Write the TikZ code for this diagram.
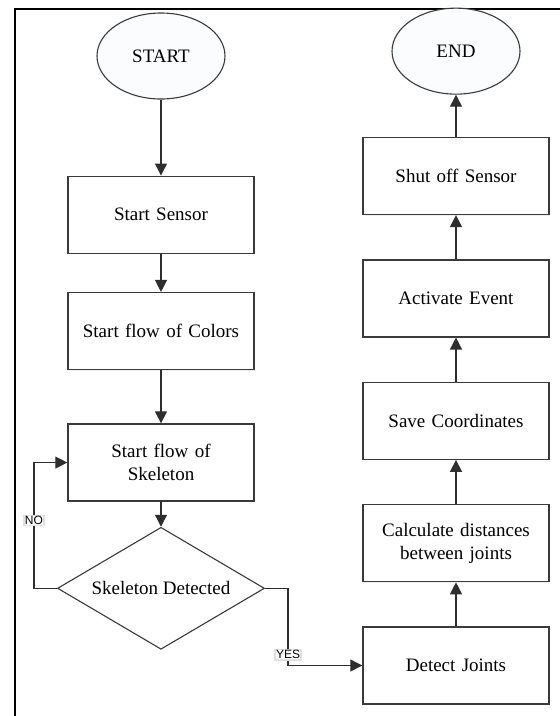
\documentclass[tikz,border=0pt]{standalone}
\usepackage{fontspec}
\setmainfont{Liberation Serif}
\newfontfamily\tagfont{Liberation Sans}
\usepackage{tikz}
\usetikzlibrary{
  arrows.meta, shapes.geometric, positioning, shadows
}
\usepackage{xcolor}
\definecolor{ink}    {HTML}{3A3A3A}
\definecolor{edge}   {HTML}{2E2E2E}
\definecolor{card}   {HTML}{FFFFFF}
\definecolor{oval}   {HTML}{FBFCFE}
\tikzset{
  box/.style    = {draw=ink, line width=1.4pt, fill=card,
                   minimum width=186pt, minimum height=77pt,
                   text width=180pt, align=center, inner sep=0pt,
                   font=\fontsize{19}{23}\selectfont,
                   drop shadow={opacity=0.12, shadow xshift=1.2pt, shadow yshift=-1.2pt}},
  term/.style   = {ellipse, draw=ink, line width=1.1pt, fill=oval,
                   minimum width=128pt, minimum height=86pt, inner sep=0pt,
                   font=\fontsize{19}{23}\selectfont},
  decide/.style = {diamond, draw=ink, line width=1.1pt, fill=card,
                   minimum width=207pt, minimum height=122pt,
                   shape aspect=1.7, inner sep=0pt,
                   font=\fontsize{19}{23}\selectfont},
  arr/.style    = {-{Triangle[length=12pt, width=12pt]}, line width=1.2pt, edge},
  tag/.style    = {font=\tagfont\fontsize{12}{14}\selectfont, fill=white,
                   draw=black!12, inner sep=1pt, text=black},
  frame/.style  = {line width=2.6pt, black},
}

\begin{document}
\begin{tikzpicture}[x=1pt, y=-1pt]
  \useasboundingbox (0,0) rectangle (560,716);

  % --- page frame ---
  \draw[frame] (15,716) -- (15,9) -- (560,9);

  % --- left column ---
  \node[term] (start) at (161,56) {START};
  \node[box, below=76pt of start]  (sensor) {Start Sensor};
  \node[box, below=38pt of sensor] (colors) {Start flow of Colors};
  \node[box, below=53pt of colors] (skel)   {Start flow of\\Skeleton};
  \node[decide, below=25pt of skel] (found) {Skeleton Detected};

  % --- right column ---
  \node[box] (joints) at (456,665.5) {Detect Joints};
  \node[box, above=44pt of joints] (dist)   {Calculate distances\\between joints};
  \node[box, above=44pt of dist]   (save)   {Save Coordinates};
  \node[box, above=44pt of save]   (event)  {Activate Event};
  \node[box, above=44pt of event]  (stop)   {Shut off Sensor};
  \node[term, above=42pt of stop]  (finish) {END};

  % --- arrows ---
  \draw[arr] (start)  -- (sensor);
  \draw[arr] (sensor) -- (colors);
  \draw[arr] (colors) -- (skel);
  \draw[arr] (skel)   -- (found);
  \draw[arr] (found.west) -- ++(-23,0) |- node[tag, pos=0.27]{NO} (skel.west);
  \draw[arr] (found.east) -- ++(23,0)  |- node[tag, pos=0.43]{YES} (joints.west);
  \draw[arr] (joints) -- (dist);
  \draw[arr] (dist)   -- (save);
  \draw[arr] (save)   -- (event);
  \draw[arr] (event)  -- (stop);
  \draw[arr] (stop)   -- (finish);

\end{tikzpicture}
\end{document}
